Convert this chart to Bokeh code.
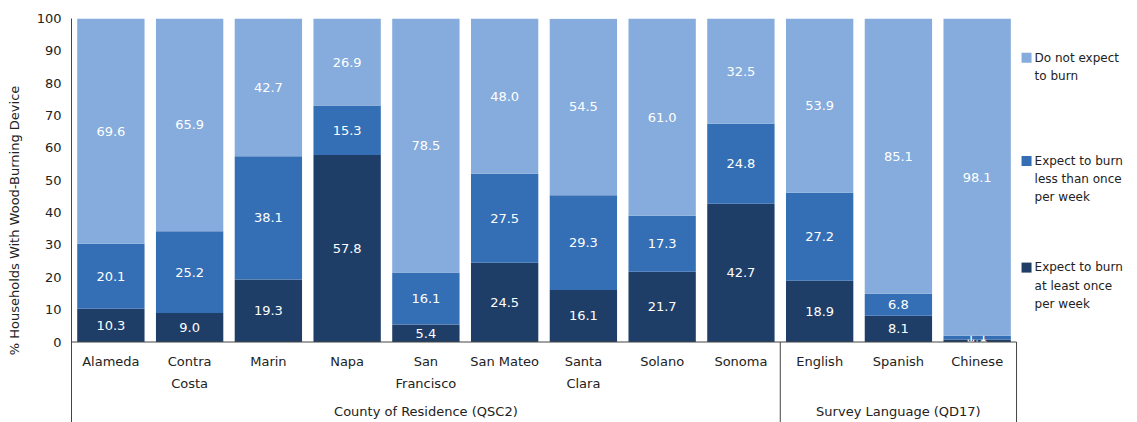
from bokeh.plotting import figure
from bokeh.models import Range1d, FixedTicker, ColumnDataSource
from bokeh.core.properties import value
from bokeh.embed import file_html
from bokeh.resources import INLINE

categories = ["Alameda", "Contra\nCosta", "Marin", "Napa", "San\nFrancisco", "San Mateo",
              "Santa\nClara", "Solano", "Sonoma", "English", "Spanish", "Chinese"]
at_least_weekly = [10.3, 9.0, 19.3, 57.8, 5.4, 24.5, 16.1, 21.7, 42.7, 18.9, 8.1, 0.8]
less_than_weekly = [20.1, 25.2, 38.1, 15.3, 16.1, 27.5, 29.3, 17.3, 24.8, 27.2, 6.8, 1.1]
do_not_burn = [69.6, 65.9, 42.7, 26.9, 78.5, 48.0, 54.5, 61.0, 32.5, 53.9, 85.1, 98.1]
groups = ["County of Residence (QSC2)", "Survey Language (QD17)"]
group_sizes = [9, 3]
series_names = ["Expect to burn\nat least once\nper week",
                "Expect to burn\nless than once\nper week",
                "Do not expect\nto burn"]
y_ticks = [0, 10, 20, 30, 40, 50, 60, 70, 80, 90, 100]

colors = ["#1E3E68", "#346EB4", "#85ACDC"]
FONT = "DejaVu Sans"
n = len(categories)
YMIN = -24.88

p = figure(width=1137, height=422, output_backend="svg", toolbar_location=None,
           x_range=Range1d(0, 13.536), y_range=Range1d(YMIN, 100),
           min_border_left=71, min_border_right=0, min_border_top=18, min_border_bottom=0)
p.xaxis.visible = False
p.xgrid.visible = False
p.ygrid.visible = False
p.outline_line_color = None

ax = p.yaxis[0]
ax.ticker = FixedTicker(ticks=y_ticks)
ax.major_tick_line_color = None
ax.minor_tick_line_color = None
ax.major_tick_out = 0
ax.major_label_standoff = 10
ax.major_label_text_font = FONT
ax.major_label_text_font_size = "13px"
ax.major_label_text_color = "#222222"
ax.axis_line_color = "#444444"
ax.axis_label = "% Households With Wood-Burning Device"
ax.axis_label_text_font = FONT
ax.axis_label_text_font_size = "13px"
ax.axis_label_text_font_style = "normal"
ax.axis_label_text_color = "#222222"
ax.axis_label_standoff = 12

xs = [i + 0.5 for i in range(n)]
series = [at_least_weekly, less_than_weekly, do_not_burn]
bottom = [0.0] * n
for vals, col in zip(series, colors):
    top = [b + v for b, v in zip(bottom, vals)]
    src = ColumnDataSource(dict(x=xs, bottom=bottom, top=top,
                                mid=[(b + t) / 2 for b, t in zip(bottom, top)],
                                lab=["%.1f" % v for v in vals]))
    p.vbar(x="x", bottom="bottom", top="top", width=0.855, source=src,
           fill_color=col, line_color=None)
    p.text(x="x", y="mid", text="lab", source=src, text_color="white",
           text_font=value(FONT), text_font_size="13px",
           text_align="center", text_baseline="middle")
    bottom = top

# x axis line and group separators
p.segment(x0=[0], y0=[0], x1=[n], y1=[0], line_color="#444444", line_width=1)
edges = [0]
for g in group_sizes:
    edges.append(edges[-1] + g)
p.segment(x0=edges[1:], y0=[0] * len(group_sizes), x1=edges[1:],
          y1=[YMIN] * len(group_sizes), line_color="#444444", line_width=1)

# category labels
p.text(x=xs, y=[-3.86] * n, text=categories, text_color="#222222",
       text_font=value(FONT), text_font_size="13px", text_align="center",
       text_baseline="top", text_line_height=1.45)
# group labels
gx = [(edges[i] + edges[i + 1]) / 2 for i in range(len(group_sizes))]
p.text(x=gx, y=[-21.5] * len(groups), text=groups, text_color="#222222",
       text_font=value(FONT), text_font_size="13px", text_align="center",
       text_baseline="middle")

# legend
leg_y = [23.0, 55.95, 87.9]
p.scatter(x=[12.127] * 3, y=leg_y, marker="square", size=10,
          fill_color=colors, line_color=None)
p.text(x=[12.229] * 3, y=[y + 2.2 for y in leg_y], text=series_names, text_color="#222222",
       text_font=value(FONT), text_font_size="12px", text_align="left",
       text_baseline="top", text_line_height=1.29)

open("out.html", "w").write(file_html(p, INLINE))
